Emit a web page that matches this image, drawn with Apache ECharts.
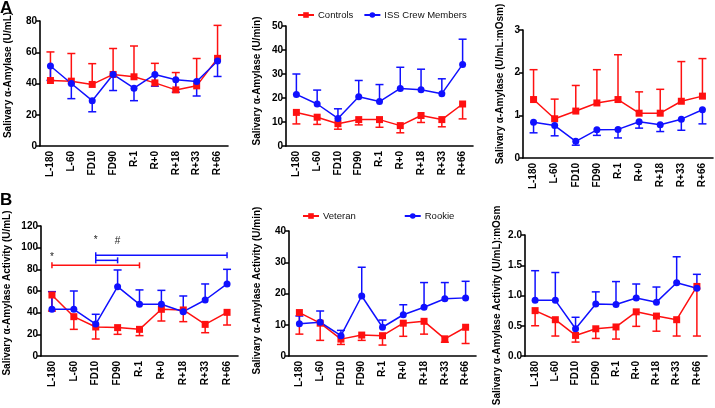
<!DOCTYPE html>
<html><head><meta charset="utf-8">
<script src="https://cdn.jsdelivr.net/npm/echarts@6/dist/echarts.min.js"></script>
<style>html,body{margin:0;padding:0;background:#fff}#c{width:715px;height:408px}</style>
</head><body><div id="c"></div>
<script>
const categories = ['L-180','L-60','FD10','FD90','R-1','R+0','R+18','R+33','R+66'];

// Panel A1 (U/mL)
const ctrlA1 = [41.9, 41.5, 39.4, 45.8, 44.3, 40.4, 35.9, 38.5, 56.1];
const ctrlA1Err = [60.2, 59.2, 52.7, 62.4, 64, 52.9, 47, 56, 77.2];
const crewA1 = [51.2, 40, 29, 45.8, 37, 45.8, 42.4, 41.3, 54.4];
const crewA1Err = [42, 30.3, 21.9, 35.5, 29, 38.3, 34.4, 32, 44.5];
// Panel A2 (U/min)
const ctrlA2 = [14, 12, 9.3, 11, 11, 8.5, 12.7, 11, 17.5];
const ctrlA2Err = [9.2, 9, 7, 8.8, 7.8, 5.5, 9.8, 8, 11.3];
const crewA2 = [21.5, 17.5, 11.5, 20.5, 18.5, 24, 23.4, 21.8, 34];
const crewA2Err = [30, 23.3, 15.5, 27.3, 25.6, 32.8, 32, 28, 44.5];
// Panel A3 (U/mL:mOsm)
const ctrlA3 = [1.37, 0.92, 1.1, 1.29, 1.37, 1.05, 1.05, 1.33, 1.45];
const ctrlA3Err = [2.07, 1.38, 1.7, 2.07, 2.42, 1.55, 1.61, 2.26, 2.33];
const crewA3 = [0.84, 0.76, 0.39, 0.66, 0.67, 0.85, 0.78, 0.91, 1.13];
const crewA3Err = [0.59, 0.52, 0.3, 0.53, 0.47, 0.7, 0.62, 0.65, 0.8];
// Panel B1 (U/mL)
const vetB1 = [56.3, 36.3, 26.8, 26.2, 24.6, 43.1, 42.5, 29.2, 40.3];
const vetB1Err = [41.5, 24.6, 15.7, 20, 18.8, 32.3, 31.7, 21.5, 28.6];
const rookB1 = [43.1, 43.1, 29.5, 64, 47.7, 47.7, 40.9, 51.7, 66.5];
const rookB1Err = [59.4, 60, 38.5, 79.4, 61, 60.6, 55.4, 66.5, 80];
// Panel B2 (U/min)
const vetB2 = [13.9, 10.5, 5.4, 6.7, 6.5, 10.5, 11.1, 5.5, 9.2];
const vetB2Err = [7, 5, 3.7, 5, 3.5, 6.3, 7, 4.4, 4];
const rookB2 = [10.3, 10.8, 6.5, 19.2, 9.2, 13.2, 15.6, 18.3, 18.6];
const rookB2Err = [12.8, 14.4, 8.2, 28.4, 11.5, 16.4, 23.5, 23.5, 23.9];
// Panel B3 ((U/mL):mOsm)
const vetB3 = [0.75, 0.6, 0.34, 0.45, 0.48, 0.73, 0.66, 0.6, 1.15];
const vetB3Err = [0.5, 0.33, 0.23, 0.29, 0.28, 0.49, 0.41, 0.33, 0.33];
const rookB3 = [0.92, 0.92, 0.45, 0.86, 0.85, 0.96, 0.89, 1.21, 1.12];
const rookB3Err = [1.41, 1.38, 0.64, 1.06, 1.23, 1.19, 1.14, 1.64, 1.35];

// Significance brackets in B1: [from, to, level, color]
const bracketsB1 = [['L-180','R-1',83.7,'red'],['FD10','R+66',93,'blue'],['FD10','FD90',88.3,'blue']];
const marksB1 = [['L-180',91.5,'*'],['FD10',107,'*'],['FD90',105.5,'#']];

const RED = '#ff1010', BLUE = '#1010ff';
const FONT = 'Liberation Sans, Arial, sans-serif';

const panels = [
  {grid:{left:40,top:21,width:188,height:125}, min:0,max:80,interval:20, name:'Salivary \u03b1-Amylase (U/mL)', gap:27, shift:17,
   r:[ctrlA1,ctrlA1Err,'Controls'], b:[crewA1,crewA1Err,'ISS Crew Members'], fmt:null},
  {grid:{left:286,top:26,width:187,height:120}, min:0,max:50,interval:10, name:'Salivary \u03b1-Amylase (U/min)', gap:24, shift:10,
   r:[ctrlA2,ctrlA2Err,'Controls'], b:[crewA2,crewA2Err,'ISS Crew Members'], fmt:null},
  {grid:{left:523,top:30,width:190,height:128}, min:0,max:3,interval:1, name:'Salivary \u03b1-Amylase (U/mL:mOsm)', gap:18, shift:20,
   r:[ctrlA3,ctrlA3Err,'Controls'], b:[crewA3,crewA3Err,'ISS Crew Members'], fmt:null},
  {grid:{left:41,top:226,width:197,height:130}, min:0,max:120,interval:20, name:'Salivary \u03b1-Amylase Activity (U/mL)', gap:29, shift:-4,
   r:[vetB1,vetB1Err,'Veteran'], b:[rookB1,rookB1Err,'Rookie'], fmt:null},
  {grid:{left:289,top:231,width:187,height:125}, min:0,max:40,interval:10, name:'Salivary \u03b1-Amylase Activity (U/min)', gap:27, shift:6,
   r:[vetB2,vetB2Err,'Veteran'], b:[rookB2,rookB2Err,'Rookie'], fmt:null},
  {grid:{left:525,top:235,width:182,height:121}, min:0,max:2,interval:0.5, name:'Salivary \u03b1-Amylase Activity (U/mL):mOsm', gap:23, shift:-20,
   r:[vetB3,vetB3Err,'Veteran'], b:[rookB3,rookB3Err,'Rookie'], fmt:v=>v.toFixed(1)},
];

const grids=[], xAxes=[], yAxes=[], series=[];
function errSeries(name, i, means, ends, color){
  return {type:'custom', name:name+' error', xAxisIndex:i, yAxisIndex:i, z:2, silent:true,
    itemStyle:{color:color},
    data: categories.map((c,k)=>[k, means[k], ends[k]]),
    renderItem:(params, api)=>{
      const p1 = api.coord([api.value(0), api.value(1)]);
      const p2 = api.coord([api.value(0), api.value(2)]);
      const st = {stroke:color, lineWidth:1.5};
      return {type:'group', children:[
        {type:'line', shape:{x1:p1[0],y1:p1[1],x2:p2[0],y2:p2[1]}, style:st},
        {type:'line', shape:{x1:p2[0]-4,y1:p2[1],x2:p2[0]+4,y2:p2[1]}, style:st}
      ]};
    }};
}
panels.forEach((p,i)=>{
  grids.push(p.grid);
  xAxes.push({type:'category', gridIndex:i, data:categories, boundaryGap:true,
    axisLine:{lineStyle:{color:'#000',width:1.6}},
    axisTick:{alignWithLabel:true, length:4, lineStyle:{color:'#000',width:1.5}},
    axisLabel:{rotate:90, color:'#000', fontWeight:'bold', fontSize:10, fontFamily:FONT, margin:5, interval:0},
    splitLine:{show:false}});
  yAxes.push({type:'value', gridIndex:i, min:p.min, max:p.max, interval:p.interval,
    name:p.name, nameLocation:'middle', nameGap:p.gap,
    nameTextStyle:{color:'#000', fontWeight:'bold', fontSize:10, fontFamily:FONT,
      padding: p.shift>0 ? [0,0,0,p.shift] : [0,-p.shift,0,0]},
    axisLine:{show:true, lineStyle:{color:'#000',width:1.6}},
    axisTick:{show:true, length:4, lineStyle:{color:'#000',width:1.5}},
    axisLabel:{color:'#000', fontWeight:'bold', fontSize:10, fontFamily:FONT, margin:3,
      formatter: p.fmt ? p.fmt : (v=>String(v))},
    splitLine:{show:false}});
  series.push(errSeries(p.r[2], i, p.r[0], p.r[1], RED));
  series.push(errSeries(p.b[2], i, p.b[0], p.b[1], BLUE));
  series.push({type:'line', name:p.r[2], xAxisIndex:i, yAxisIndex:i, data:p.r[0], z:3,
    symbol:'rect', symbolSize:7, itemStyle:{color:RED}, lineStyle:{color:RED,width:1.5}});
  series.push({type:'line', name:p.b[2], xAxisIndex:i, yAxisIndex:i, data:p.b[0], z:3,
    symbol:'circle', symbolSize:7, itemStyle:{color:BLUE}, lineStyle:{color:BLUE,width:1.5}});
});

// brackets for B1
series.push({type:'custom', xAxisIndex:3, yAxisIndex:3, silent:true, z:4,
  data: bracketsB1.map(b=>[categories.indexOf(b[0]), categories.indexOf(b[1]), b[2]]),
  renderItem:(params, api)=>{
    const b = bracketsB1[params.dataIndex];
    const color = b[3]==='red' ? RED : BLUE;
    const p1 = api.coord([api.value(0), api.value(2)]);
    const p2 = api.coord([api.value(1), api.value(2)]);
    const st = {stroke:color, lineWidth:1.5};
    return {type:'group', children:[
      {type:'line', shape:{x1:p1[0],y1:p1[1],x2:p2[0],y2:p2[1]}, style:st},
      {type:'line', shape:{x1:p1[0],y1:p1[1]-3,x2:p1[0],y2:p1[1]+3}, style:st},
      {type:'line', shape:{x1:p2[0],y1:p2[1]-3,x2:p2[0],y2:p2[1]+3}, style:st}
    ]};
  }});
series.push({type:'custom', xAxisIndex:3, yAxisIndex:3, silent:true, z:4,
  data: marksB1.map(m=>[categories.indexOf(m[0]), m[1]]),
  renderItem:(params, api)=>{
    const p = api.coord([api.value(0), api.value(1)]);
    return {type:'text', x:p[0], y:p[1], style:{text:marksB1[params.dataIndex][2], fill:'#222',
      font:'10px '+FONT, textAlign:'center', textVerticalAlign:'middle'}};
  }});

const chart = echarts.init(document.getElementById('c'), null, {renderer:'canvas'});
chart.setOption({
  animation:false,
  backgroundColor:'#fff',
  title:[
    {text:'A', left:0, top:0, padding:0, textStyle:{fontSize:17, fontWeight:'bold', color:'#000', fontFamily:FONT}},
    {text:'B', left:0, top:192, padding:0, textStyle:{fontSize:17, fontWeight:'bold', color:'#000', fontFamily:FONT}}
  ],
  legend:[
    {data:['Controls','ISS Crew Members'], left:297, top:10, padding:0, itemGap:10, itemWidth:16, itemHeight:7,
     textStyle:{fontSize:9.5, color:'#111', fontFamily:FONT, padding:[0,0,0,-1]}},
    {data:['Veteran','Rookie'], left:302, top:211, padding:0, itemGap:48, itemWidth:16, itemHeight:7,
     textStyle:{fontSize:9.5, color:'#111', fontFamily:FONT, padding:[0,0,0,-1]}}
  ],
  grid:grids, xAxis:xAxes, yAxis:yAxes, series:series
});
</script></body></html>
